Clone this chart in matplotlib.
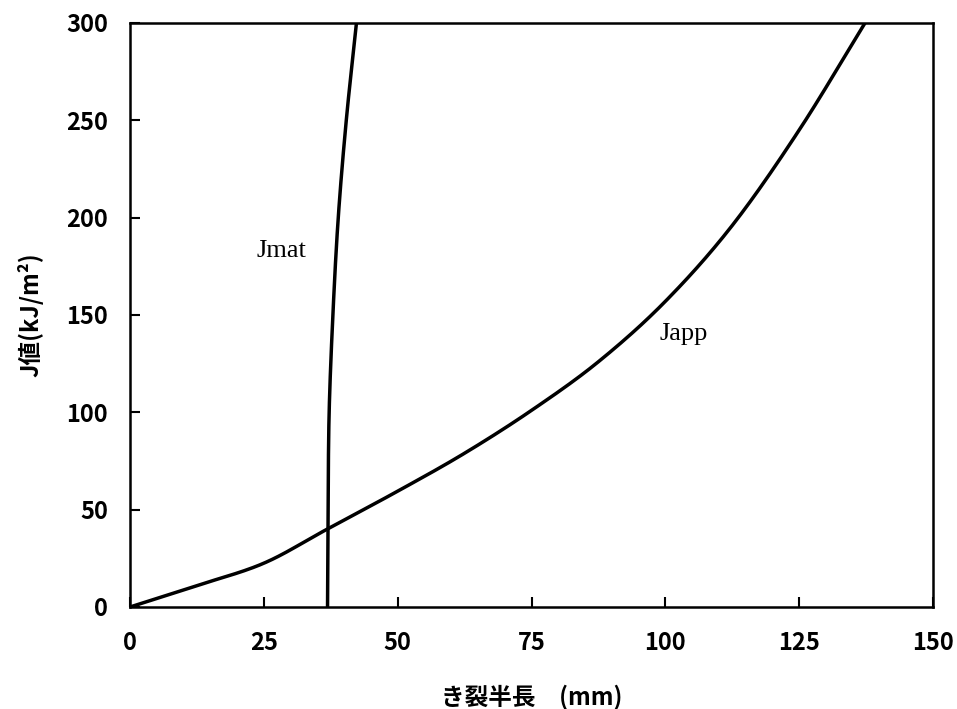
import matplotlib
matplotlib.use("Agg")
import matplotlib.pyplot as plt
import numpy as np

plt.rcParams['font.family'] = ['Noto Sans CJK JP', 'DejaVu Sans']

# Japp curve (crack half-length mm, J kJ/m2)
japp_x = [0, 12.5, 25.0, 36.5, 50.0, 62.5, 75.0, 87.5, 100.0, 112.5, 125.0, 137.3]
japp_y = [0, 11.0, 22.5, 39.5, 59.5, 79.0, 101.0, 126.0, 157.0, 196.0, 245.0, 300.0]

# Jmat curve
jmat_x = [36.9, 37.0, 37.2, 37.9, 38.9, 40.4, 42.3]
jmat_y = [0, 50, 100, 150, 200, 250, 300]

x_ticks = [0, 25, 50, 75, 100, 125, 150]
y_ticks = [0, 50, 100, 150, 200, 250, 300]


def smooth(xs, ys):
    # Catmull-Rom spline through the read points
    p = np.column_stack([xs, ys]).astype(float)
    p = np.vstack([2 * p[0] - p[1], p, 2 * p[-1] - p[-2]])
    out = []
    for i in range(1, len(p) - 2):
        p0, p1, p2, p3 = p[i - 1], p[i], p[i + 1], p[i + 2]
        t = np.linspace(0, 1, 30, endpoint=False)[:, None]
        seg = 0.5 * ((2 * p1) + (-p0 + p2) * t + (2 * p0 - 5 * p1 + 4 * p2 - p3) * t ** 2
                     + (-p0 + 3 * p1 - 3 * p2 + p3) * t ** 3)
        out.append(seg)
    out.append(p[-2][None, :])
    out = np.vstack(out)
    return out[:, 0], out[:, 1]


fig = plt.figure(figsize=(9.57, 7.09), dpi=100)
ax = fig.add_axes([130/957, 1-607/709, (933-130)/957, (607-23)/709])

sx, sy = smooth(japp_x, japp_y)
ax.plot(sx, sy, color='black', lw=2.5, solid_capstyle='butt')
sx, sy = smooth(jmat_x, jmat_y)
ax.plot(sx, sy, color='black', lw=2.5, solid_capstyle='butt')

ax.set_xlim(0, 150)
ax.set_ylim(0, 300)
ax.set_xticks(x_ticks)
ax.set_yticks(y_ticks)
ax.tick_params(direction='in', length=7, width=1.5, labelsize=17, pad=16)
ax.tick_params(axis='x', pad=17)
for lab in ax.get_xticklabels() + ax.get_yticklabels():
    lab.set_fontweight('bold')
for s in ax.spines.values():
    s.set_linewidth(1.8)

ax.text(28.2, 183, 'Jmat', family='Liberation Serif', fontsize=19, ha='center', va='center')
ax.text(103.5, 140, 'Japp', family='Liberation Serif', fontsize=19, ha='center', va='center')

ax.set_xlabel('き裂半長\u3000(mm)', fontsize=17, fontweight='bold', labelpad=22)
ax.set_ylabel('J値(kJ/m²)', fontsize=17, fontweight='bold', labelpad=16)

fig.savefig('out.png', dpi=100)
